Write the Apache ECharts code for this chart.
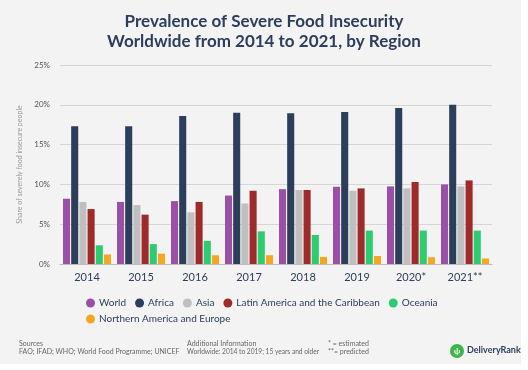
<!DOCTYPE html>
<html><head><meta charset="utf-8">
<script src="https://cdn.jsdelivr.net/npm/echarts@6/dist/echarts.min.js"></script>
<style>html,body{margin:0;padding:0;background:#fff}#c{width:528px;height:370px}</style>
</head><body><div id="c"></div>
<script>
const categories = ['2014','2015','2016','2017','2018','2019','2020*','2021**'];
const world    = [8.2, 7.8, 7.9, 8.6, 9.4, 9.7, 9.75, 10.0];
const africa   = [17.3, 17.3, 18.6, 19.0, 18.95, 19.1, 19.6, 20.0];
const asia     = [7.8, 7.4, 6.5, 7.6, 9.3, 9.2, 9.5, 9.75];
const latam    = [6.9, 6.2, 7.8, 9.2, 9.3, 9.5, 10.3, 10.5];
const oceania  = [2.35, 2.5, 2.9, 4.1, 3.65, 4.2, 4.2, 4.2];
const namEur   = [1.2, 1.3, 1.1, 1.1, 0.9, 1.0, 0.85, 0.7];
const yTicks = [0, 5, 10, 15, 20, 25];

const seriesDefs = [
  ['World', world, '#9b4fa6'],
  ['Africa', africa, '#2c3e5c'],
  ['Asia', asia, '#bfbfbf'],
  ['Latin America and the Caribbean', latam, '#9e2a2b'],
  ['Oceania', oceania, '#2ecc71'],
  ['Northern America and Europe', namEur, '#f5a623']
];

const chart = echarts.init(document.getElementById('c'));
const F = 'Lato, "Open Sans", sans-serif';
chart.setOption({
  animation: false,
  backgroundColor: '#ffffff',
  graphic: [
    {type:'rect', shape:{x:0,y:0,width:521,height:364}, style:{fill:'#f3f3f3'}, z:-10},
    {type:'text', left:'center', top:12, style:{text:'Prevalence of Severe Food Insecurity\nWorldwide from 2014 to 2021, by Region', font:'bold 17px '+F, fill:'#2c3e5c', textAlign:'center', lineHeight:20}},
    {type:'text', left:19, top:340, style:{text:'Sources', font:'7px '+F, fill:'#666'}},
    {type:'text', left:19, top:348, style:{text:'FAO; IFAD; WHO; World Food Programme; UNICEF', font:'7px '+F, fill:'#666'}},
    {type:'text', left:187, top:340, style:{text:'Additional Information', font:'7px '+F, fill:'#666'}},
    {type:'text', left:187, top:348, style:{text:'Worldwide: 2014 to 2019; 15 years and older', font:'6.6px '+F, fill:'#666'}},
    {type:'text', left:328, top:340, style:{text:'* = estimated', font:'7px '+F, fill:'#666'}},
    {type:'text', left:328, top:348, style:{text:'**= predicted', font:'7px '+F, fill:'#666'}},
    {type:'circle', shape:{cx:457, cy:351, r:7}, style:{fill:'#3cb54a'}},
    {type:'text', left:454, top:347, style:{text:'ψ', font:'bold 8px '+F, fill:'#fff'}},
    {type:'text', left:467, top:346, style:{text:'DeliveryRank', font:'bold 9px '+F, fill:'#2c3e5c'}}
  ],
  grid: {left:60, right:36, top:65, bottom:106, containLabel:false},
  legend: {
    left:86, top:298, width:380, itemWidth:9, itemHeight:9, itemGap:6,
    icon:'circle', padding:[0,0,0,0],
    textStyle:{fontFamily:F, fontSize:10, color:'#2c3e5c', padding:[0,3,0,-1], lineHeight:10},
    data: seriesDefs.map(d=>d[0])
  },
  xAxis: {
    type:'category', data:categories,
    axisLine:{show:true, lineStyle:{color:'#bbb'}}, axisTick:{show:false},
    axisLabel:{fontFamily:F, fontSize:11, color:'#2c3e5c', margin:8}
  },
  yAxis: {
    type:'value', min:0, max:25, interval:5,
    name:'Share of severely food insecure people', nameLocation:'middle', nameGap:31,
    nameTextStyle:{fontFamily:F, fontSize:7, color:'#999'},
    axisLabel:{fontFamily:F, fontSize:8, color:'#555', formatter: v => yTicks.includes(v) ? v + '%' : '', margin:10},
    splitLine:{lineStyle:{color:'#d6d6d6'}},
    axisLine:{show:false}, axisTick:{show:false}
  },
  series: seriesDefs.map(d => ({
    name:d[0], type:'bar', data:d[1], itemStyle:{color:d[2]},
    barGap:'16%', barCategoryGap:'11%'
  }))
});
</script></body></html>
